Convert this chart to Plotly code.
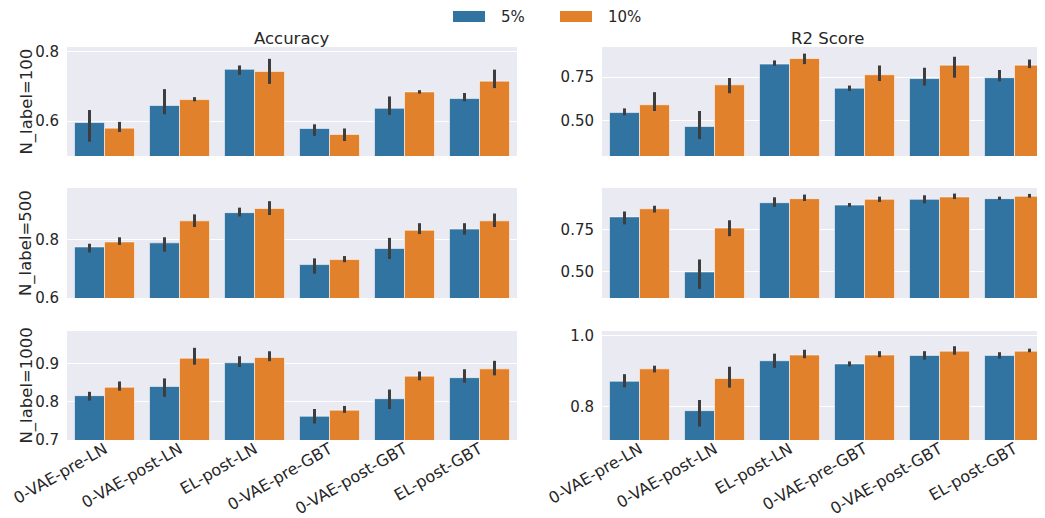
import plotly.graph_objects as go
from plotly.subplots import make_subplots

categories = ["0-VAE-pre-LN", "0-VAE-post-LN", "EL-post-LN", "0-VAE-pre-GBT", "0-VAE-post-GBT", "EL-post-GBT"]
hue_labels = ["5%", "10%"]
row_labels = ["N_label=100", "N_label=500", "N_label=1000"]
col_titles = ["Accuracy", "R2 Score"]

# Accuracy, N_label=100
acc100_5 = [0.596, 0.645, 0.749, 0.579, 0.637, 0.665]
acc100_5_lo = [0.541, 0.620, 0.733, 0.558, 0.618, 0.657]
acc100_5_hi = [0.632, 0.692, 0.760, 0.591, 0.671, 0.681]
acc100_10 = [0.580, 0.662, 0.743, 0.562, 0.684, 0.715]
acc100_10_lo = [0.569, 0.657, 0.707, 0.543, 0.679, 0.695]
acc100_10_hi = [0.598, 0.669, 0.779, 0.579, 0.689, 0.748]
# R2, N_label=100
r2100_5 = [0.546, 0.466, 0.824, 0.686, 0.741, 0.746]
r2100_5_lo = [0.530, 0.394, 0.814, 0.670, 0.701, 0.725]
r2100_5_hi = [0.570, 0.555, 0.845, 0.701, 0.803, 0.790]
r2100_10 = [0.591, 0.705, 0.856, 0.763, 0.818, 0.818]
r2100_10_lo = [0.555, 0.657, 0.824, 0.727, 0.746, 0.801]
r2100_10_hi = [0.663, 0.744, 0.884, 0.816, 0.866, 0.850]
# Accuracy, N_label=500
acc500_5 = [0.774, 0.788, 0.891, 0.714, 0.769, 0.835]
acc500_5_lo = [0.755, 0.758, 0.878, 0.683, 0.733, 0.816]
acc500_5_hi = [0.785, 0.807, 0.908, 0.735, 0.805, 0.855]
acc500_10 = [0.791, 0.863, 0.905, 0.731, 0.831, 0.863]
acc500_10_lo = [0.781, 0.842, 0.883, 0.722, 0.818, 0.842]
acc500_10_hi = [0.807, 0.885, 0.930, 0.743, 0.855, 0.888]
# R2, N_label=500
r2500_5 = [0.824, 0.498, 0.908, 0.894, 0.928, 0.932]
r2500_5_lo = [0.780, 0.398, 0.884, 0.884, 0.904, 0.924]
r2500_5_hi = [0.856, 0.572, 0.940, 0.906, 0.952, 0.944]
r2500_10 = [0.872, 0.758, 0.932, 0.928, 0.942, 0.946]
r2500_10_lo = [0.850, 0.710, 0.918, 0.912, 0.930, 0.938]
r2500_10_hi = [0.890, 0.804, 0.956, 0.944, 0.962, 0.960]
# Accuracy, N_label=1000
acc1000_5 = [0.816, 0.840, 0.902, 0.762, 0.808, 0.863]
acc1000_5_lo = [0.803, 0.813, 0.891, 0.743, 0.781, 0.850]
acc1000_5_hi = [0.826, 0.861, 0.919, 0.781, 0.832, 0.885]
acc1000_10 = [0.838, 0.914, 0.916, 0.778, 0.867, 0.886]
acc1000_10_lo = [0.829, 0.897, 0.906, 0.771, 0.856, 0.869]
acc1000_10_hi = [0.853, 0.941, 0.932, 0.789, 0.879, 0.907]
# R2, N_label=1000
r21000_5 = [0.871, 0.788, 0.929, 0.920, 0.944, 0.944]
r21000_5_lo = [0.854, 0.743, 0.909, 0.913, 0.932, 0.935]
r21000_5_hi = [0.891, 0.818, 0.949, 0.927, 0.956, 0.953]
r21000_10 = [0.906, 0.879, 0.945, 0.945, 0.956, 0.956]
r21000_10_lo = [0.896, 0.853, 0.936, 0.939, 0.946, 0.953]
r21000_10_hi = [0.915, 0.912, 0.960, 0.956, 0.970, 0.963]

panels = [
    (1, 1, [(acc100_5, acc100_5_lo, acc100_5_hi), (acc100_10, acc100_10_lo, acc100_10_hi)]),
    (1, 2, [(r2100_5, r2100_5_lo, r2100_5_hi), (r2100_10, r2100_10_lo, r2100_10_hi)]),
    (2, 1, [(acc500_5, acc500_5_lo, acc500_5_hi), (acc500_10, acc500_10_lo, acc500_10_hi)]),
    (2, 2, [(r2500_5, r2500_5_lo, r2500_5_hi), (r2500_10, r2500_10_lo, r2500_10_hi)]),
    (3, 1, [(acc1000_5, acc1000_5_lo, acc1000_5_hi), (acc1000_10, acc1000_10_lo, acc1000_10_hi)]),
    (3, 2, [(r21000_5, r21000_5_lo, r21000_5_hi), (r21000_10, r21000_10_lo, r21000_10_hi)]),
]

colors = ["#3274a1", "#e1812c"]
PAGE_W, PAGE_H = 1045, 518
OFF = 8  # default page body margin
W, H = PAGE_W - OFF, PAGE_H - OFF
TXT = "#262626"
FONT = "DejaVu Sans"

fig = make_subplots(rows=3, cols=2)

for (r, c, series) in panels:
    for k, (m, lo, hi) in enumerate(series):
        fig.add_trace(go.Bar(
            x=categories, y=m, name=hue_labels[k], showlegend=False,
            marker=dict(color=colors[k], line=dict(color="rgba(255,255,255,0.55)", width=1)),
            error_y=dict(type="data", symmetric=False,
                         array=[h - v for h, v in zip(hi, m)],
                         arrayminus=[v - l for v, l in zip(m, lo)],
                         color="#3d3d3d", thickness=3, width=0),
            offsetgroup=str(k),
        ), row=r, col=c)

def px_x(p):
    return (p - OFF) / W

def px_y(p):
    return 1 - (p - OFF) / H

col_dom = [[px_x(67), px_x(517)], [px_x(602), 1.0]]
row_dom = [[px_y(156), px_y(47)], [px_y(298), px_y(188)], [px_y(440), px_y(331)]]
yranges = {(1, 1): [0.5, 0.813], (1, 2): [0.297, 0.922],
           (2, 1): [0.6, 0.975], (2, 2): [0.344, 0.995],
           (3, 1): [0.7, 0.985], (3, 2): [0.705, 1.013]}
ydticks = {(1, 1): (0.2, ".1f"), (1, 2): (0.25, ".2f"),
           (2, 1): (0.2, ".1f"), (2, 2): (0.25, ".2f"),
           (3, 1): (0.1, ".1f"), (3, 2): (0.2, ".1f")}

for r in range(1, 4):
    for c in range(1, 3):
        idx = (r - 1) * 2 + c
        xa = "xaxis" if idx == 1 else f"xaxis{idx}"
        ya = "yaxis" if idx == 1 else f"yaxis{idx}"
        xr = [-0.5, 5.5] if c == 1 else [-0.5, -0.5 + (PAGE_W - 602) / 75.0]
        fig.layout[xa].update(
            domain=col_dom[c - 1], range=xr, showgrid=False, zeroline=False,
            showticklabels=(r == 3), tickangle=-30, automargin=False,
            tickfont=dict(family=FONT, size=16, color=TXT),
            ticks="", showline=False, ticklabelstandoff=-4,
        )
        dt, fmt = ydticks[(r, c)]
        fig.layout[ya].update(
            domain=row_dom[r - 1], range=yranges[(r, c)], dtick=dt, tick0=0,
            tickformat=fmt, showgrid=True, gridcolor="white", gridwidth=1,
            zeroline=False, automargin=False,
            tickfont=dict(family=FONT, size=15, color=TXT),
            ticks="outside", ticklen=4, tickcolor="rgba(0,0,0,0)",
            showline=False,
        )

annotations = []
annotations.append(dict(text=col_titles[0], x=(px_x(67) + px_x(517)) / 2, y=px_y(38),
                        xref="paper", yref="paper", showarrow=False,
                        font=dict(family=FONT, size=16.5, color=TXT),
                        xanchor="center", yanchor="middle"))
annotations.append(dict(text=col_titles[1], x=px_x(827), y=px_y(38),
                        xref="paper", yref="paper", showarrow=False,
                        font=dict(family=FONT, size=16.5, color=TXT),
                        xanchor="center", yanchor="middle"))
row_centers = [101.5, 243, 385.5]
for lbl, yc in zip(row_labels, row_centers):
    annotations.append(dict(text=lbl, x=px_x(26), y=px_y(yc), xref="paper", yref="paper",
                            showarrow=False, textangle=-90,
                            font=dict(family=FONT, size=16.5, color=TXT),
                            xanchor="center", yanchor="middle"))
shapes = []
leg_x = [453, 560]
for k in range(2):
    shapes.append(dict(type="rect", xref="paper", yref="paper",
                       x0=px_x(leg_x[k]), x1=px_x(leg_x[k] + 32),
                       y0=px_y(22), y1=px_y(11),
                       fillcolor=colors[k], line=dict(width=0)))
    annotations.append(dict(text=hue_labels[k], x=px_x(leg_x[k] + 46), y=px_y(16.5),
                            xref="paper", yref="paper", showarrow=False,
                            font=dict(family=FONT, size=15, color=TXT),
                            xanchor="left", yanchor="middle"))

fig.update_layout(
    width=W, height=H, margin=dict(l=0, r=0, t=0, b=0),
    paper_bgcolor="white", plot_bgcolor="#eaeaf2",
    barmode="group", bargap=0.2, bargroupgap=0.0,
    showlegend=False, annotations=annotations, shapes=shapes,
    font=dict(family=FONT, color=TXT),
)

fig.write_html("out.html")
